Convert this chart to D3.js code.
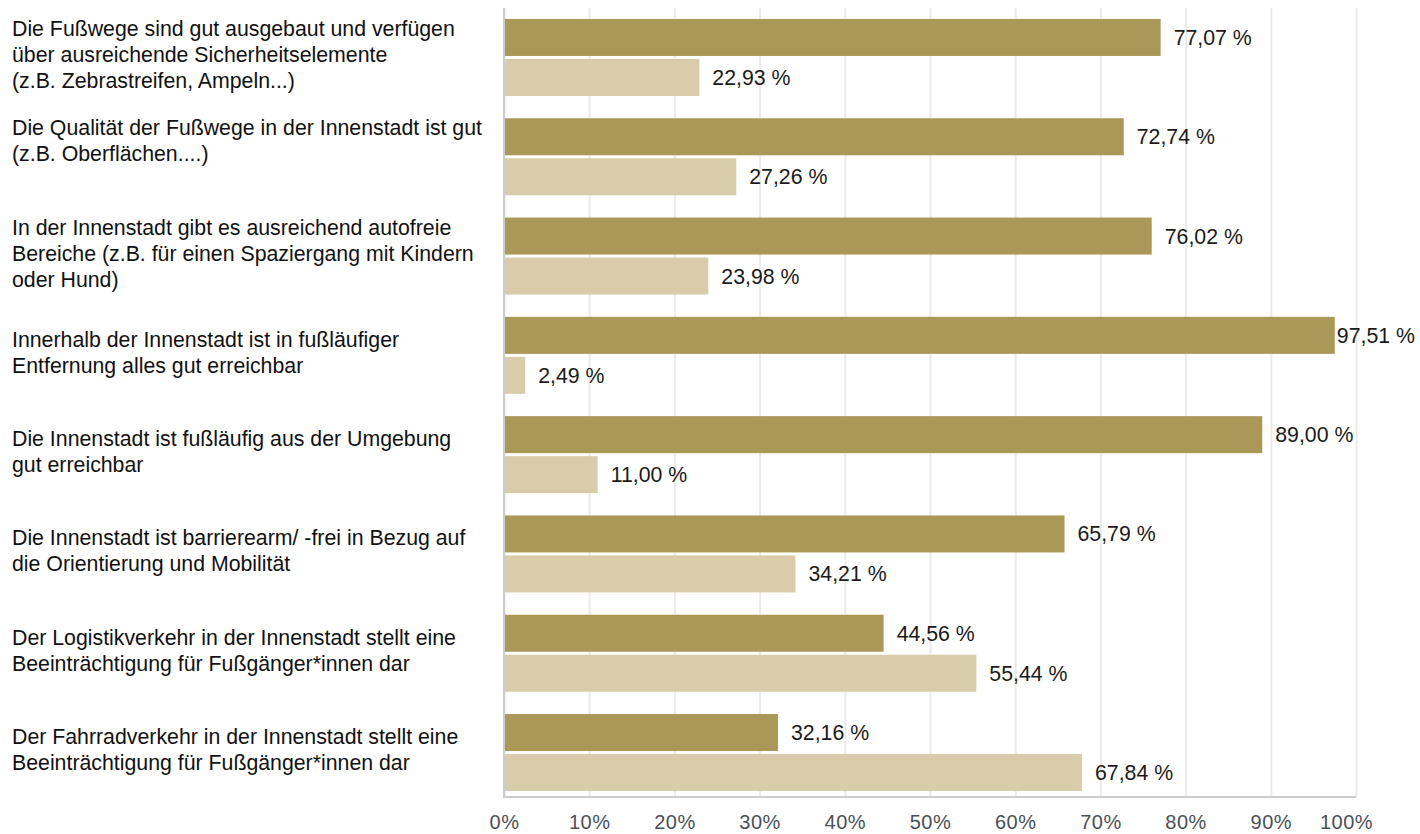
<!DOCTYPE html>
<html>
<head>
<meta charset="utf-8">
<script src="https://cdn.jsdelivr.net/npm/d3@7"></script>
<style>
  html, body { margin: 0; padding: 0; background: #ffffff; }
  svg { display: block; font-family: "Liberation Sans", Arial, Helvetica, sans-serif; }
</style>
</head>
<body>
<svg id="chart" width="1420" height="834"></svg>
<script>
// Statements (each split into its display lines)
const categories = [
  ["Die Fußwege sind gut ausgebaut und verfügen", "über ausreichende Sicherheitselemente", "(z.B. Zebrastreifen, Ampeln...)"],
  ["Die Qualität der Fußwege in der Innenstadt ist gut", "(z.B. Oberflächen....)", ""],
  ["In der Innenstadt gibt es ausreichend autofreie", "Bereiche (z.B. für einen Spaziergang mit Kindern", "oder Hund)"],
  ["Innerhalb der Innenstadt ist in fußläufiger", "Entfernung alles gut erreichbar"],
  ["Die Innenstadt ist fußläufig aus der Umgebung", "gut erreichbar"],
  ["Die Innenstadt ist barrierearm/ -frei in Bezug auf", "die Orientierung und Mobilität"],
  ["Der Logistikverkehr in der Innenstadt stellt eine", "Beeinträchtigung für Fußgänger*innen dar"],
  ["Der Fahrradverkehr in der Innenstadt stellt eine", "Beeinträchtigung für Fußgänger*innen dar"]
];

// Share of answers in percent
const agreeValues    = [77.07, 72.74, 76.02, 97.51, 89.00, 65.79, 44.56, 32.16];
const disagreeValues = [22.93, 27.26, 23.98,  2.49, 11.00, 34.21, 55.44, 67.84];

const seriesColors = ["#aa9858", "#d9ccaa"];
const tickValues = [0, 10, 20, 30, 40, 50, 60, 70, 80, 90, 100];

const W = 1420, H = 834;
const plot = { left: 504, right: 1356, top: 8, bottom: 797 };

const svg = d3.select("#chart");

const de = d3.formatLocale({ decimal: ",", thousands: ".", grouping: [3], currency: ["", " €"] });
const fmtValue = v => de.format(".2f")(v) + " %";

const x = d3.scaleLinear().domain([0, 100]).range([plot.left, plot.right]);

const y = d3.scaleBand()
  .domain(d3.range(categories.length))
  .range([plot.top + 5, plot.bottom])
  .paddingInner(0.2245)
  .paddingOuter(0.06);

const ySub = d3.scaleBand()
  .domain([0, 1])
  .range([0, y.bandwidth()])
  .paddingInner(0.075);

// Vertical grid lines
const grid = svg.append("g")
  .attr("transform", `translate(0,${plot.bottom})`)
  .call(d3.axisBottom(x).tickValues(tickValues).tickSize(-(plot.bottom - plot.top)).tickFormat(""));
grid.select(".domain").remove();
grid.selectAll(".tick line").attr("stroke", "#ebebeb").attr("stroke-width", 2);

// Bars
const rows = categories.map((lines, i) => ({ i, lines, values: [agreeValues[i], disagreeValues[i]] }));

const group = svg.append("g").selectAll("g.row")
  .data(rows)
  .join("g")
  .attr("class", "row")
  .attr("transform", d => `translate(0,${y(d.i)})`);

group.selectAll("rect")
  .data(d => d.values.map((v, k) => ({ v, k })))
  .join("rect")
  .attr("x", x(0) + 1)
  .attr("y", d => ySub(d.k))
  .attr("width", d => x(d.v) - x(0) - 1)
  .attr("height", ySub.bandwidth())
  .attr("fill", d => seriesColors[d.k]);

// Value labels next to each bar
group.selectAll("text.value")
  .data(d => d.values.map((v, k) => ({ v, k })))
  .join("text")
  .attr("class", "value")
  .attr("y", d => ySub(d.k) + ySub.bandwidth() / 2)
  .attr("dy", "0.35em")
  .attr("font-size", 21.3)
  .attr("fill", "#1a1a1a")
  .text(d => fmtValue(d.v))
  .each(function (d) {
    const w = this.getComputedTextLength();
    const px = Math.min(x(d.v) + 13, W - 5 - w);
    d3.select(this).attr("x", px);
  });

// Category labels on the left
group.append("text")
  .attr("class", "cat")
  .attr("font-size", 21.3)
  .attr("fill", "#111111")
  .each(function (d) {
    const t = d3.select(this);
    const lh = 26;
    const n = d.lines.length;
    const cy = y.bandwidth() / 2 - 3;
    d.lines.forEach((line, j) => {
      t.append("tspan")
        .attr("x", 12)
        .attr("y", cy + (j - (n - 1) / 2) * lh)
        .attr("dy", "0.35em")
        .text(line);
    });
  });

// Left axis line
svg.append("line")
  .attr("x1", plot.left).attr("x2", plot.left)
  .attr("y1", plot.top).attr("y2", plot.bottom)
  .attr("stroke", "#cccccc").attr("stroke-width", 2);

// Bottom axis with percent ticks
const xAxis = svg.append("g")
  .attr("transform", `translate(0,${plot.bottom})`)
  .call(d3.axisBottom(x).tickValues(tickValues).tickSize(0).tickPadding(18).tickFormat(d => d + "%"));
xAxis.select(".domain").attr("stroke", "#cccccc").attr("stroke-width", 2).attr("d", `M${plot.left - 1},0H${plot.right}`);
xAxis.selectAll(".tick text")
  .attr("font-size", 20)
  .attr("letter-spacing", 0.5)
  .attr("font-family", "'Liberation Sans', Arial, sans-serif")
  .attr("fill", "#4a5058")
  .attr("dx", d => d === 100 ? -10 : 0);
</script>
</body>
</html>
